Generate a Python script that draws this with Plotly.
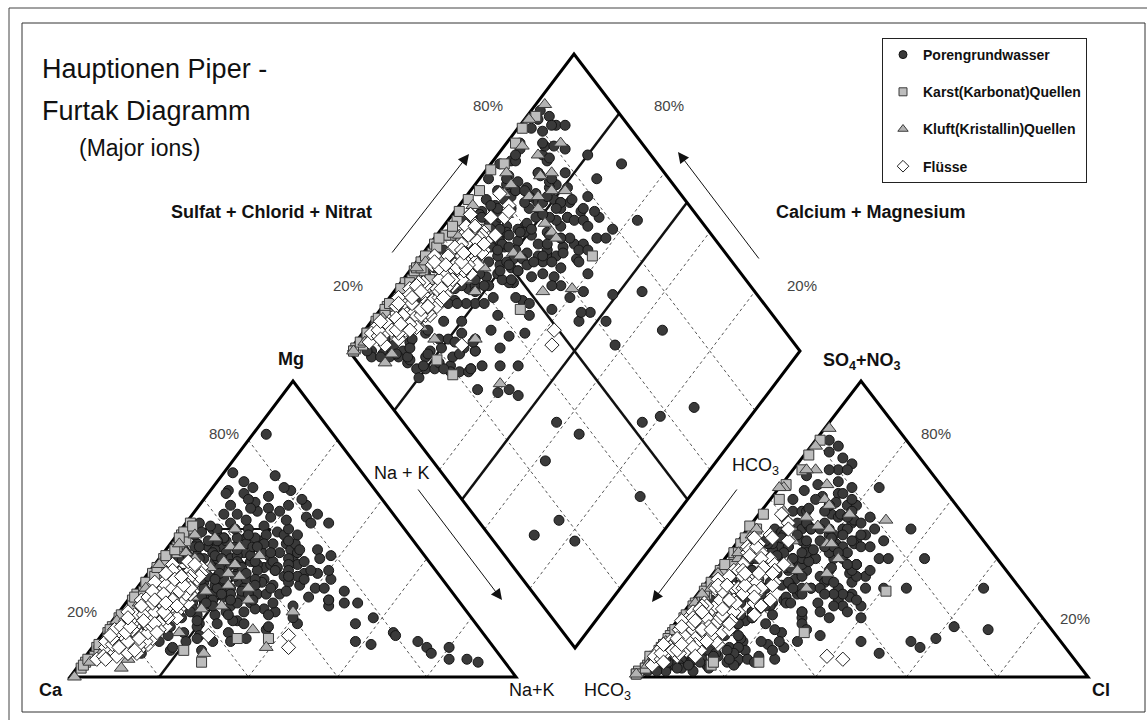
import plotly.graph_objects as go

# ---------------- data: percent of meq/l ----------------
# cations: Mg, Na+K (Ca = rest) ; anions: SO4+NO3, Cl (HCO3 = rest)
poren_mg = [30,35,28,40,45,32,25,38,42,27, 33,48,22,36,29,44,31,39,26,34,
            50,41,24,37,46,28,35,43,30,20, 52,38,27,47,33,40,23,36,29,45,
            34,41,31,49,25,37,42,28,33,39, 21,44,30,36,46,26,38,32,43,24,
            50,35,29,40,27,47,33,22,41,37, 30,45,26,34,39,48,31,42,28,36,
            44,23,35,40,32,51,27,38,33,25,
            15,20,12,18,25,10,22,14,28,17, 30,8,24,19,13,26,11,21,16,27, 9,23,18,29,12,
            40,45,35,50,42,38,48,55,36,44, 52,33,47,41,39,
            62,68,82,69,63,64,61,63,56,50, 43,5,10,12,6,15,8,14,20,30,
            35,40,25,12,24,29,11,10,6,25, 18,36,46,30,38,
            32,37,43,28,34,40,46,31,36,41, 26,29,38,44,33,39,47,27,35,42,
            30,36,45,25,32,40,48,29,34,43, 23,31,39,46,28,35,42,37,30,33,
            20,18,24,22,17,26,19,16,21,23, 12,14,10,15,11,13,9,8,16,14,
            44,41,47,39,50,36,53,38,45,49, 55,57,53,58,54,59,56,52,51,58,
            31,27,38,24,33,29,36,21,26,40, 18,22,15,25,20,12,28,17,24,13,
            35,30,41,28,38,34,25,44,32,27, 37,42,34,45,30,39,48,33,41,36,
            20,25,30,22,28,33,18,26,35,31, 14,17,24,19,27,12,21,29,16,23,
            38,42,36,44,40,46,34,48,39,43, 66,60,64,58,55,62,52,57,60,54]
poren_na = [12,8,18,10,6,22,15,14,18,25, 5,9,10,28,20,12,30,7,6,16,
            15,24,20,11,20,9,35,4,26,14, 10,19,13,16,23,30,8,6,16,26,
            11,8,19,22,28,25,14,33,9,21, 18,9,24,17,12,11,32,14,28,24,
            7,20,7,16,21,11,27,12,20,4, 15,17,17,31,13,24,10,26,28,9,
            15,16,13,5,33,18,4,23,18,9,
            8,12,5,20,25,10,35,15,30,6, 40,6,18,28,12,45,8,22,4,14, 18,32,42,10,26,
            3,6,2,8,5,10,4,7,12,9, 3,6,11,2,14,
            8,12,3,2,4,9,14,18,14,24, 34,89,75,72,82,65,77,66,58,42,
            38,29,49,58,46,47,62,80,86,52, 55,36,10,20,26,
            10,15,11,14,20,13,10,17,24,17, 19,11,8,19,13,26,14,16,10,22,
            21,12,23,12,27,9,20,24,14,16, 13,8,18,8,22,16,11,20,18,25,
            9,12,7,16,20,23,27,10,5,30, 14,22,18,28,9,33,25,12,36,6,
            6,12,18,7,12,9,13,17,21,5, 10,16,22,7,26,12,19,28,6,24,
            36,40,30,38,42,34,40,34,45,36, 24,28,18,33,40,30,26,36,20,22,
            5,4,6,6,4,7,5,7,6,8, 28,30,34,28,30,33,27,36,38,31,
            15,18,12,24,20,16,30,28,22,26, 10,14,9,19,11,20,25,6,8,13,
            18,24,28,20,14,26,32,16,22,30, 6,10,16,20,28,4,32,12,22,18]
poren_so4 = [30,35,25,40,45,28,20,38,42,22, 50,52,18,30,26,46,28,36,24,32,
             48,40,20,44,55,28,30,42,34,16, 50,36,30,45,38,35,22,40,22,44,
             27,48,31,46,25,42,38,26,34,44, 19,52,29,33,40,21,34,44,38,27,
             56,24,31,50,30,44,36,25,34,46, 40,48,23,32,30,52,36,45,32,28,
             36,28,42,38,27,50,26,30,46,33,
             5,8,3,6,10,4,8,5,12,7, 10,2,9,11,6,12,4,7,3,14, 6,14,9,15,8,
             65,70,60,72,78,62,68,74,58,66, 76,56,64,80,70,
             58,62,70,48,52,56,44,60,40,38, 30,15,8,4,10,22,20,13,28,16,
             17,30,10,6,12,20,5,8,12,24, 30,40,64,50,40,
             33,37,43,27,31,41,47,35,40,39, 24,29,34,42,28,37,51,26,31,47,
             32,39,50,23,33,45,44,28,36,40, 21,30,42,49,25,38,36,43,37,30,
             15,14,19,18,13,21,16,12,17,20, 9,10,7,11,8,10,6,5,12,9,
             54,57,59,52,61,48,58,54,56,63, 52,55,50,47,46,58,44,48,45,53,
             28,24,32,22,26,30,34,18,22,36, 8,10,6,12,9,5,14,7,11,4,
             38,33,40,30,44,36,27,46,40,25, 44,48,38,52,42,46,54,36,40,50,
             4,5,6,3,7,8,4,6,9,5, 2,3,4,2,5,3,6,6,2,4,
             18,22,16,25,20,28,14,30,12,24, 50,46,54,42,38,60,44,50,48,56]
poren_cl = [14,10,18,12,8,22,12,16,18,26, 6,10,10,30,20,14,34,8,6,14,
            20,24,16,10,16,10,36,5,24,14, 12,20,12,22,18,30,8,6,15,24,
            11,8,17,26,28,22,13,32,9,16, 15,8,22,19,17,10,34,12,28,20,
            7,18,7,14,22,12,25,11,20,4, 15,19,16,32,14,22,10,26,26,9,
            16,14,12,6,34,18,4,24,15,8,
            3,4,2,8,10,5,14,6,12,3, 16,2,7,10,4,18,3,9,1,6, 6,13,20,5,11,
            8,10,5,12,6,14,4,9,18,12, 5,9,16,3,12,
            20,15,8,12,16,10,22,18,26,30, 40,25,10,6,8,15,33,60,32,70,
            62,62,58,28,44,40,20,50,55,38, 45,34,22,36,44,
            11,15,9,13,19,11,9,14,20,19, 17,12,7,17,12,25,13,14,10,20,
            18,11,21,11,26,8,22,23,13,15, 13,7,16,8,21,14,10,18,16,24,
            8,10,6,14,17,20,23,9,4,27, 12,18,15,24,8,28,20,10,30,5,
            6,10,15,8,11,9,14,18,20,6, 12,18,22,9,25,14,20,27,7,22,
            30,34,28,30,36,26,32,28,36,30, 14,18,12,22,26,18,16,24,13,14,
            5,5,6,7,4,8,6,6,7,9, 28,26,30,24,26,32,25,34,36,28,
            8,12,10,15,14,18,20,22,16,24, 6,9,7,12,5,8,18,4,4,10,
            20,26,30,22,16,28,34,20,26,32, 14,18,20,24,28,10,30,16,22,14]

karst_mg = [5,8,10,12,15,18,20,22,25,28, 30,33,35,38,40,42,45,48,50,52,
            46,44,49,51,7,14,9,5,13,13, 10,30,26,36,17,3,11,14,
            4,6,9,11,13,16,19,21,24,27, 29,32,34,37,39,41,43,47,15,20]
karst_na = [1,2,1,3,1,2,1,3,2,1, 2,3,1,2,1,3,2,1,2,1,
            3,2,1,2,2,2,21,27,38,31, 10,2,1,3,1,1,6,10,
            1,1,2,1,2,1,2,1,2,1, 2,1,2,1,2,1,2,1,8,5]
karst_so4 = [2,4,6,8,10,12,15,18,20,22, 25,28,30,33,36,40,45,50,55,60,
             65,70,75,80,3,7,8,4,29,15, 51,38,26,42,14,1,5,5,
             1,3,5,7,9,11,13,16,19,21, 24,27,29,32,35,38,42,47,12,17]
karst_cl = [0,1,1,2,1,2,1,2,1,2, 1,2,1,2,1,2,1,2,1,2,
            1,2,1,1,1,1,10,15,41,30, 0,3,2,1,1,0,25,15,
            0,1,1,0,1,1,1,1,2,1, 1,2,1,1,2,1,2,1,5,3]

kluft_mg = [47,37,39,34,30,26,22,16,8,3, 0,38,33,20,25,12,45,42,28,18,
            10,6,15,50,41,35,29,44,14,24,
            36,31,27,40,23,33,9,5,19,44, 30,24,13,38,48]
kluft_na = [9,13,15,21,25,27,39,33,26,10, 1,1,11,5,3,4,2,5,6,9,
            39,10,17,12,22,18,16,14,2,8,
            12,20,14,8,18,5,3,2,1,16, 2,22,12,18,4]
kluft_so4 = [70,60,65,55,45,40,35,30,20,5, 1,78,48,35,50,25,84,64,40,20,
             15,8,19,53,54,51,34,45,12,64,
             46,38,30,56,28,42,7,4,28,50, 30,36,14,58,70]
kluft_cl = [5,12,10,20,20,25,25,23,10,1, 0,1,2,1,2,1,1,1,3,8,
            13,1,2,29,11,15,10,21,1,0,
            12,15,8,5,10,2,1,1,1,18, 2,18,6,14,3]

fluss_mg = [30,22,25,29,38,9,12,15,18,20, 24,27,32,35,14,17,21,26,31,34,
            10,13,16,19,23,28,33,36,11,24, 20,27,30,8,15,18,22,25,29,37,
            6,10,13,17,21,26,32,35,19,23, 28,12,16,24,31,7,14,20,27,33,
            11,9,18,22,29,39,14,14,10,26, 17,30,12,25,20,34,8,16,23,28,
            11,14,17,20,23,26,29,32,35,13, 16,19,22,25,28,31,34,9,12,15,
            18,21,24,27,30,33,7,10,13,16, 19,22,25,28,31,36,8,11,14,17,
            20,23,26,29,32,12,15,18,21,24, 27,30,33,38,6,9,13,17,20,24,
            26,29,31,34,19,22,15,28,35,25]
fluss_na = [6,5,11,13,4,5,8,10,9,7, 9,11,8,10,4,6,12,4,12,6,
            3,9,12,3,13,11,10,9,6,7, 12,6,10,9,7,11,10,14,8,11,
            3,11,6,9,4,12,5,12,10,11, 13,11,2,9,9,7,10,8,9,12,
            12,10,5,13,12,7,24,42,44,3, 13,10,2,10,14,12,11,11,6,13,
            4,9,3,11,5,8,12,3,7,12, 6,11,2,10,12,6,10,8,11,10,
            8,6,11,4,8,10,4,6,3,12, 4,8,6,10,11,5,9,10,2,10,
            12,10,10,4,9,7,5,10,11,4, 7,12,7,9,5,10,9,5,3,12,
            6,10,10,8,7,10,12,7,4,9]
fluss_so4 = [25,20,30,32,45,8,10,14,18,22, 26,28,35,40,12,15,24,30,38,42,
             6,9,17,16,25,34,30,48,12,21, 28,36,33,7,11,22,27,24,40,52,
             4,9,15,19,18,32,44,36,13,20, 38,14,9,30,26,5,17,16,24,46,
             11,10,20,30,28,55,20,6,7,22, 21,42,7,18,26,50,12,26,34,31,
             10,13,16,20,24,27,30,33,38,15, 18,21,19,25,29,36,40,8,11,14,
             12,14,22,24,28,37,6,9,8,16, 23,26,29,33,35,43,10,12,11,21,
             19,23,28,31,34,9,13,17,25,20, 31,35,41,47,5,7,16,19,17,27,
             22,26,31,36,11,16,18,44,47,35]
fluss_cl = [3,2,12,15,5,3,5,6,8,4, 6,9,6,10,2,4,10,3,12,4,
            2,7,11,2,14,8,7,6,4,5, 13,4,9,6,3,12,7,16,5,8,
            2,10,3,6,2,11,3,13,8,9, 14,9,1,8,6,4,9,5,6,11,
            13,8,3,13,10,5,6,43,39,2, 16,7,1,9,17,9,12,9,4,15,
            3,7,2,9,4,6,9,2,5,12, 4,11,1,8,12,5,8,6,8,10,
            6,4,11,3,6,10,3,4,2,13, 3,6,5,8,10,4,8,10,1,9,
            12,8,10,3,7,5,3,8,10,3, 5,13,5,7,4,10,7,4,2,13,
            4,8,9,6,5,9,12,5,3,7]

series_names = ["Porengrundwasser", "Karst(Karbonat)Quellen",
                "Kluft(Kristallin)Quellen", "Flüsse"]
grid_levels = [20, 40, 60, 80]

# ---------------- geometry of the three panels (plot units) ----------------
W, H = 1147, 720
CA, NAK, MGA = (70, 677), (516, 677), (293, 381)
HCO, CLC, SOA = (634, 677), (1088, 677), (861, 381)
DB, DR, DL = (575, 648), (800, 351), (349, 351)


def cat_xy(mg, na):
    ca = 100 - mg - na
    return ((ca * CA[0] + mg * MGA[0] + na * NAK[0]) / 100,
            (ca * CA[1] + mg * MGA[1] + na * NAK[1]) / 100)


def an_xy(so4, cl):
    hc = 100 - so4 - cl
    return ((hc * HCO[0] + so4 * SOA[0] + cl * CLC[0]) / 100,
            (hc * HCO[1] + so4 * SOA[1] + cl * CLC[1]) / 100)


def dia_xy(s, c):
    s, c = s / 100, c / 100
    return (DB[0] + s * (DR[0] - DB[0]) + c * (DL[0] - DB[0]),
            DB[1] + s * (DR[1] - DB[1]) + c * (DL[1] - DB[1]))


def project(mg, na, so4, cl):
    assert len(mg) == len(na) == len(so4) == len(cl), (len(mg), len(na), len(so4), len(cl))
    xs, ys = [], []
    for m, n in zip(mg, na):
        x, y = cat_xy(m, n); xs.append(x); ys.append(y)
    for q, l in zip(so4, cl):
        x, y = an_xy(q, l); xs.append(x); ys.append(y)
    for n, q, l in zip(na, so4, cl):
        x, y = dia_xy(q + l, 100 - n); xs.append(x); ys.append(y)
    return xs, ys


fig = go.Figure()

styles = [
    dict(symbol="circle", size=10, color="#3a3a3a", line=dict(color="#151515", width=1)),
    dict(symbol="square", size=10, color="#bdbdbd", line=dict(color="#3a3a3a", width=1)),
    dict(symbol="triangle-up", size=12, color="#b3b3b3", line=dict(color="#3a3a3a", width=1)),
    dict(symbol="diamond", size=11, color="#ffffff", line=dict(color="#222222", width=1)),
]
legend_sizes = [8, 8, 9, 9]
data_sets = [(poren_mg, poren_na, poren_so4, poren_cl),
             (karst_mg, karst_na, karst_so4, karst_cl),
             (kluft_mg, kluft_na, kluft_so4, kluft_cl),
             (fluss_mg, fluss_na, fluss_so4, fluss_cl)]

for name, st, ds in zip(series_names, styles, data_sets):
    xs, ys = project(*ds)
    fig.add_trace(go.Scatter(x=xs, y=ys, mode="markers", name=name, showlegend=False,
                             legendgroup=name, marker=st, hoverinfo="skip"))
for name, st, sz in zip(series_names, styles, legend_sizes):
    lst = dict(st); lst["size"] = sz
    fig.add_trace(go.Scatter(x=[None], y=[None], mode="markers", name=name,
                             legendgroup=name, marker=lst, hoverinfo="skip"))

shapes = []


def line(p, q, width=1, dash=None, color="#111"):
    shapes.append(dict(type="line", xref="x", yref="y", x0=p[0], y0=p[1], x1=q[0], y1=q[1],
                       line=dict(color=color, width=width, dash=dash), layer="below"))


DASH = "3px,3px"
GRID = "#555"
for k in grid_levels:
    line(cat_xy(0, k), cat_xy(100 - k, k), 1, DASH, GRID)          # const Na+K
    line(cat_xy(100 - k, 0), cat_xy(0, 100 - k), 1, DASH, GRID)    # const Ca
    line(an_xy(100 - k, 0), an_xy(0, 100 - k), 1, DASH, GRID)      # const HCO3
    line(an_xy(0, k), an_xy(100 - k, k), 1, DASH, GRID)            # const Cl
    line(dia_xy(k, 0), dia_xy(k, 100), 1, DASH, GRID)
    line(dia_xy(0, k), dia_xy(100, k), 1, DASH, GRID)

# classification lines
line(cat_xy(0, 20), cat_xy(50, 20), 2.5)
line(cat_xy(50, 0), cat_xy(50, 20), 2)
line(dia_xy(0, 80), dia_xy(100, 80), 2.5)
line(dia_xy(0, 50), dia_xy(100, 50), 2.5)
line(dia_xy(50, 0), dia_xy(50, 80), 2.5)

# outlines
for tri in [(CA, NAK, MGA), (HCO, CLC, SOA)]:
    a, b, c = tri
    shapes.append(dict(type="path", xref="x", yref="y", layer="below",
                       path=f"M{a[0]},{a[1]} L{b[0]},{b[1]} L{c[0]},{c[1]} Z",
                       line=dict(color="#000", width=3)))
top = dia_xy(100, 100)
shapes.append(dict(type="path", xref="x", yref="y", layer="below",
                   path=f"M{DB[0]},{DB[1]} L{DR[0]},{DR[1]} L{top[0]},{top[1]} L{DL[0]},{DL[1]} Z",
                   line=dict(color="#000", width=3)))

# frames
shapes.append(dict(type="line", xref="x", yref="y", x0=9, y0=8, x1=1147, y1=8,
                   line=dict(color="#444", width=1)))
shapes.append(dict(type="line", xref="x", yref="y", x0=9, y0=8, x1=9, y1=720,
                   line=dict(color="#444", width=1)))
shapes.append(dict(type="rect", xref="x", yref="y", x0=22, y0=23, x1=1145, y1=712,
                   line=dict(color="#333", width=1)))

FONT = "Liberation Sans, Arial, sans-serif"
ann = []


def text(x, y, t, size=18, bold=False, color="#111", xanchor="center"):
    ann.append(dict(x=x, y=y, xref="x", yref="y", text=t, showarrow=False,
                    xanchor=xanchor, yanchor="middle",
                    font=dict(family=FONT, size=size, color=color,
                              weight="bold" if bold else "normal")))


def arrow(tail, head):
    ann.append(dict(x=head[0], y=head[1], ax=tail[0], ay=tail[1], xref="x", yref="y",
                    axref="x", ayref="y", text="", showarrow=True, arrowhead=2,
                    arrowsize=2.2, arrowwidth=1, arrowcolor="#111"))


text(40, 69, "Hauptionen Piper -", 27, xanchor="left")
text(40, 111, "Furtak Diagramm", 27, xanchor="left")
text(77, 148, "(Major ions)", 23, xanchor="left")

text(271, 212, "Sulfat + Chlorid + Nitrat", 18, True)
text(871, 212, "Calcium + Magnesium", 18, True)
arrow((391, 254), (469, 154))
arrow((760, 260), (678, 152))

text(402, 473, "Na + K", 18)
arrow((417, 488), (502, 600))
text(755, 466, "HCO<sub>3</sub>", 18)
arrow((738, 488), (652, 602))

text(291, 359, "Mg", 18, True)
text(51, 690, "Ca", 18, True)
text(532, 690, "Na+K", 18)
text(607, 691, "HCO<sub>3</sub>", 18)
text(1101, 690, "Cl", 18, True)
text(862, 361, "SO<sub>4</sub>+NO<sub>3</sub>", 18, True)

PC = "#444"
for (x, y, t) in [(224, 433, "80%"), (82, 611, "20%"), (936, 433, "80%"), (1075, 618, "20%"),
                  (488, 105, "80%"), (348, 285, "20%"), (669, 105, "80%"), (802, 285, "20%")]:
    text(x, y, t, 15, color=PC)

fig.update_layout(
    width=W, height=H, margin=dict(l=0, r=0, t=0, b=0),
    paper_bgcolor="white", plot_bgcolor="white",
    xaxis=dict(range=[0, W], visible=False, fixedrange=True),
    yaxis=dict(range=[H, 0], visible=False, fixedrange=True),
    shapes=shapes, annotations=ann,
    showlegend=True,
    legend=dict(x=882 / W, y=1 - 38 / H, xanchor="left", yanchor="top",
                bgcolor="white", bordercolor="#222", borderwidth=1,
                font=dict(family=FONT, size=14, color="#111", weight="bold"),
                tracegroupgap=16, itemsizing="trace", itemwidth=30, entrywidth=200),
)

fig.write_html("out.html")
